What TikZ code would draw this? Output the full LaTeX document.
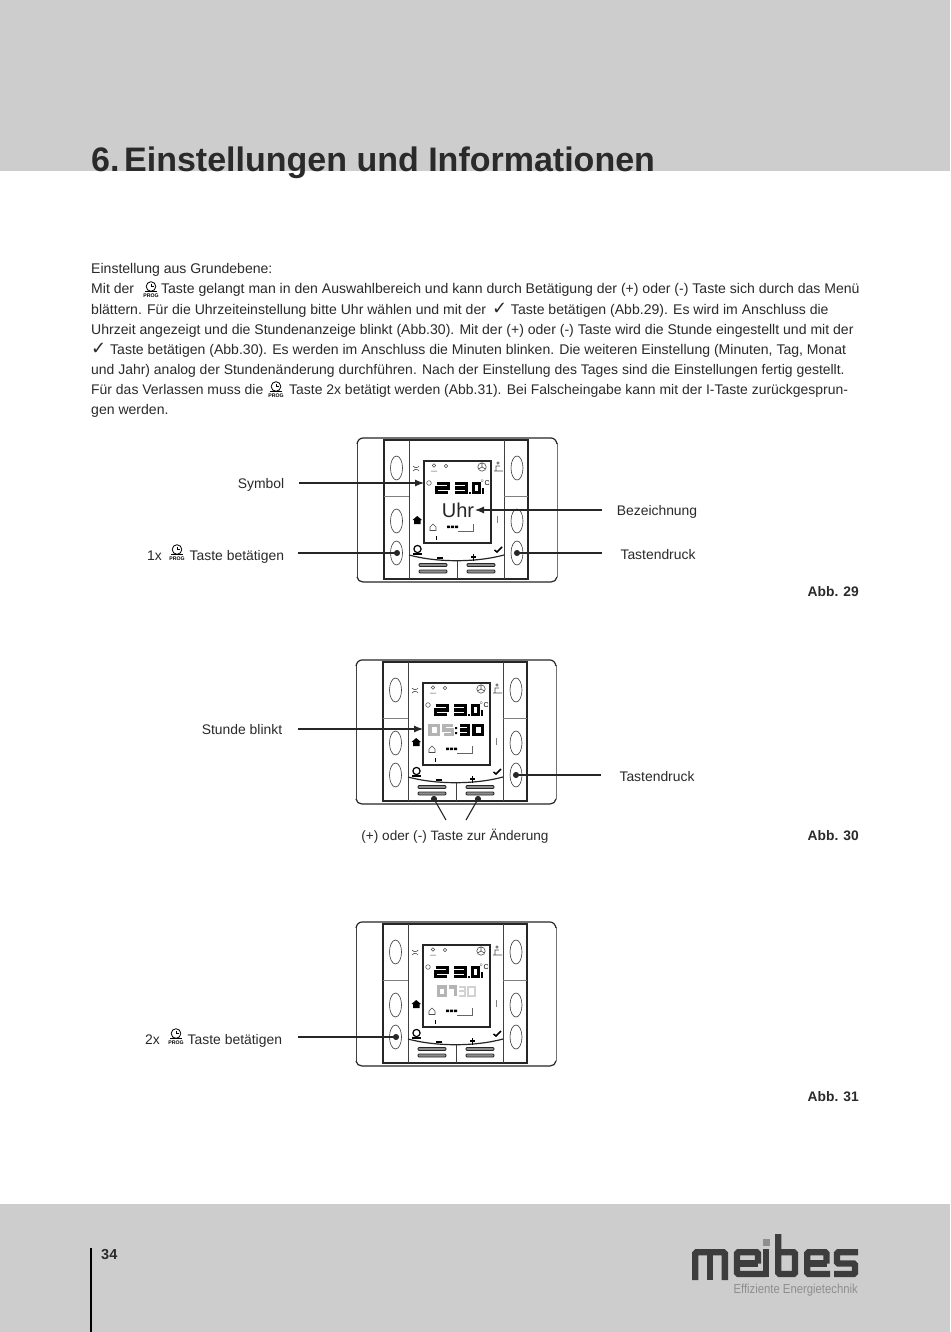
\documentclass[tikz,border=0pt]{standalone}
\usepackage{graphicx}
\usepackage{fontspec}
\setmainfont{Liberation Sans}
\newfontfamily\symfont{DejaVu Sans}
\usetikzlibrary{arrows.meta}
\definecolor{bandgray}{HTML}{CDCDCD}
\definecolor{textblack}{HTML}{2A2A2A}
\definecolor{logogray}{HTML}{3D3D3D}
\definecolor{logolight}{HTML}{8E8E8E}
\definecolor{segdim}{HTML}{B4B4B4}
\definecolor{segpale}{HTML}{D2D2D2}
\tikzset{
  bodyline/.style={anchor=base west,inner sep=0pt,text=textblack,font=\fontsize{14.05}{16}\selectfont},
  bodytight/.style={bodyline,font=\fontsize{13.95}{16}\selectfont},
  callout/.style={anchor=base,inner sep=0pt,text=textblack,font=\fontsize{13.9}{16}\selectfont},
  figlabel/.style={anchor=base east,inner sep=0pt,text=textblack,font=\fontsize{13.8}{16}\selectfont\bfseries},
  pointer/.style={draw=black!85,line width=1.1pt,-{Latex[length=9pt,width=7pt]}},
  dotline/.style={draw=black!85,line width=1.1pt,shorten >=-3pt,-{Circle[length=6pt,width=6pt]}},
  frameline/.style={draw=black!75,line width=0.8pt},
  heavyline/.style={draw=black!85,line width=1.2pt},
  grillbar/.style={draw=black!85,fill=black!45,line width=0.8pt,rounded corners=1pt},
  seg/.style={draw=black,line width=3.4pt},
  segoff/.style={draw=segdim,line width=3.2pt},
  segthin/.style={draw=segpale,line width=2pt},
  logostroke/.style={draw=logogray,line width=6.4pt,rounded corners=1.5pt},
}
\newcommand{\checkmk}{{\symfont\fontsize{18}{18}\selectfont ✓}}
% clock with PROG underneath
\newcommand{\progicon}[2]{%
  \begin{scope}[shift={(#1,#2)}]
    \draw[black,line width=0.8pt] (0,-1.5) circle (4.8);
    \draw[black,line width=0.8pt] (0,-4.5) -- (0,-1.5) -- (2.8,-1.5);
    \draw[black,line width=0.8pt] (-6,3.6) -- (6,3.6);
    \node[inner sep=0pt,font=\fontsize{5.2}{6}\selectfont\bfseries] at (0,7.5) {PROG};
  \end{scope}}
% seven segment patterns, #1 style, #2 x, #3 y
\def\dw{8.6}
\def\dh{4.3}
\newcommand{\digitTwo}[3]{\draw[#1] (#2,#3) -- ++(\dw,0) -- ++(0,\dh) -- ++(-\dw,0) -- ++(0,\dh) -- ++(\dw,0);}
\newcommand{\digitThree}[3]{\draw[#1] (#2,#3) -- ++(\dw,0) -- ++(0,2*\dh) -- ++(-\dw,0); \draw[#1] (#2,#3+\dh) -- ++(\dw,0);}
\newcommand{\digitZero}[3]{\draw[#1] (#2,#3) rectangle ++(\dw,2*\dh);}
\newcommand{\digitFive}[3]{\draw[#1] (#2+\dw,#3) -- ++(-\dw,0) -- ++(0,\dh) -- ++(\dw,0) -- ++(0,\dh) -- ++(-\dw,0);}
\newcommand{\digitSeven}[3]{\draw[#1] (#2,#3) -- ++(\dw,0) -- ++(0,2*\dh);}
% the device, #1 x of left edge, #2 y of top edge
\newcommand{\device}[2]{%
  \begin{scope}[shift={(#1,#2)}]
    \draw[frameline] (0,5) -- (0,139);
    \draw[frameline,black!55] (200,5) -- (200,139);
    \draw[heavyline] (0,6) to[out=80,in=180] (6,0) -- (194,0) to[out=0,in=100] (200,6);
    \draw[heavyline] (0,139) to[out=-80,in=180] (6,144) -- (194,144) to[out=0,in=-100] (200,139);
    \draw[heavyline] (27,2) rectangle (171,141);
    \draw[frameline] (52,2) -- (52,141);
    \draw[frameline] (147,2) -- (147,141);
    \draw[frameline,black!50] (27,58) -- (52,58);
    \draw[frameline,black!50] (147,58) -- (171,58);
    \foreach \px in {39.5,160} \foreach \py in {30,83,115}
      \draw[black!80,line width=0.6pt] (\px,\py) ellipse (6 and 12);
    \draw[heavyline] (67,23) rectangle (134,105);
    \draw[heavyline] (52,117) .. controls (80,124.6) and (119,124.6) .. (147,117);
    \draw[frameline] (100,122.5) -- (100,141);
    \foreach \gx in {62,110} {
      \draw[grillbar] (\gx,125.5) rectangle ++(28,3);
      \draw[grillbar] (\gx,132) rectangle ++(28,3);
    }
    % keys beside the display
    \draw[black!70,line width=0.6pt] (56,28) arc (150:30:3.5);
    \draw[black!70,line width=0.6pt] (56,33) arc (210:330:3.5);
    \fill[black] (60.2,78) -- (65,82) -- (63.5,82) -- (63.5,86) -- (57,86) -- (57,82) -- (55.5,82) -- cycle;
    \draw[black!70,line width=0.6pt] (137,33) -- (146,33) (139,33) -- (139,28) -- (143,28) (141,25) circle (1.2);
    \draw[black!50,line width=0.9pt] (140,78) -- (140,85);
    % row under the display
    \draw[black,line width=1.2pt] (60.5,111) circle (3.6);
    \fill[black] (56,114.6) rectangle (65,116.8);
    \fill[black] (80,119) rectangle (86,120.6);
    \fill[black] (114,118.2) rectangle (119,119.8);
    \fill[black] (115.7,115.5) rectangle (117.3,122.5);
    \draw[black,line width=1.5pt] (137.5,112) -- (140,114) -- (145,109);
    % symbols in the display
    \draw[black!70,line width=0.5pt] (77,27.5) circle (1.8) (74,33) -- (80,33);
    \draw[black!70,line width=0.5pt] (89,28) circle (1.8);
    \draw[black!70,line width=0.6pt] (125,29) circle (4.2) (125,29) -- (125,25) (125,29) -- (121.5,31) (125,29) -- (128.5,31);
    \draw[black!70,line width=0.5pt] (72,45) circle (2.3);
    \fill[black] (78.6,98) rectangle (79.8,102);
    \draw[black!70,line width=0.6pt] (73,89) -- (76,86) -- (79,89) -- (79,92.5) -- (73,92.5) -- cycle;
    \fill[black] (90,87.5) rectangle (93,90) (94,87.5) rectangle (97,90) (98,87.5) rectangle (101,90);
    \draw[black!60,line width=0.4pt] (101,93) -- (116,93) -- (116,86);
    \def\dw{11.5}
    \digitTwo{seg}{79.7}{45.7}
    \digitThree{seg}{98.2}{45.7}
    \def\dw{6.5}
    \digitZero{seg}{116.2}{45.7}
    \def\dw{8.6}
    \fill[black] (111.8,53.5) rectangle (113.8,56);
    \node[inner sep=0pt,font=\fontsize{7}{7}\selectfont] at (128,45) {$^\circ$C};
    \fill[black] (124.5,49.5) rectangle (126.5,56);
  \end{scope}}

\begin{document}
\begin{tikzpicture}[x=1pt,y=-1pt]
\useasboundingbox (0,0) rectangle (950,1332);
\fill[white] (0,0) rectangle (950,1332);
\fill[bandgray] (0,0) rectangle (950,171);
\fill[bandgray] (0,1204) rectangle (950,1332);
\node[anchor=base west,inner sep=0pt,text=textblack,font=\fontsize{34}{36}\selectfont\bfseries] (title) at (91,172) {6.\hspace{4.6pt}Einstellungen und Informationen};
%
\node[bodyline] (line1) at (91,273) {Einstellung aus Grundebene:};
\node[bodyline] (line2) at (91,293) {Mit der \hspace{23pt}Taste gelangt man in den Auswahlbereich und kann durch Betätigung der (+) oder (-) Taste sich durch das Menü};
\node[bodyline] (line3) at (91,314) {blättern. Für die Uhrzeiteinstellung bitte Uhr wählen und mit der \hspace{2pt}\checkmk{} Taste betätigen (Abb.29). Es wird im Anschluss die};
\node[bodyline] (line4) at (91,334) {Uhrzeit angezeigt und die Stundenanzeige blinkt (Abb.30). Mit der (+) oder (-) Taste wird die Stunde eingestellt und mit der};
\node[bodyline] (line5) at (91,354) {\checkmk{} Taste betätigen (Abb.30). Es werden im Anschluss die Minuten blinken. Die weiteren Einstellung (Minuten, Tag, Monat};
\node[bodytight] (line6) at (91,374) {und Jahr) analog der Stundenänderung durchführen. Nach der Einstellung des Tages sind die Einstellungen fertig gestellt.};
\node[bodytight] (line7) at (91,394) {Für das Verlassen muss die \hspace{22pt}Taste 2x betätigt werden (Abb.31). Bei Falscheingabe kann mit der I-Taste zurückgesprun-};
\node[bodyline] (line8) at (91,414) {gen werden.};
\progicon{151}{288}
\progicon{276}{388}
%
\device{357}{438}
\node[inner sep=0pt,font=\fontsize{20}{20}\selectfont,text=black!85] (uhr) at (458,510) {Uhr};
\node[callout] (symbol) at (261,488) {Symbol};
\node[callout] (bezeichnung) at (657,515) {Bezeichnung};
\node[callout,anchor=base west] (press1) at (147,560) {1x \hspace{24pt}Taste betätigen};
\node[callout] (druck1) at (658,559) {Tastendruck};
\progicon{177}{551}
\coordinate (symbolfrom) at (299,483);
\coordinate (symbolto) at (424,483);
\coordinate (bezfrom) at (602,510);
\coordinate (bezto) at (475,510);
\coordinate (pressfrom) at (298,553);
\coordinate (pressto) at (397,553);
\coordinate (drucka) at (602,553);
\coordinate (druckb) at (517,553);
\draw[pointer] (symbolfrom) -- (symbolto);
\draw[pointer] (bezfrom) -- (bezto);
\draw[dotline] (pressfrom) -- (pressto);
\draw[dotline] (drucka) -- (druckb);
\node[figlabel] (abb29) at (859,596) {Abb. 29};
%
\device{356}{660}
\digitZero{segoff}{430}{725.7}
\digitFive{segoff}{444}{725.7}
\fill[black] (455,727) rectangle (457,729) (455,732) rectangle (457,734);
\digitThree{seg}{460}{725.7}
\digitZero{seg}{474}{725.7}
\node[callout] (blinkt) at (242,734) {Stunde blinkt};
\node[callout] (druck2) at (657,781) {Tastendruck};
\node[callout,font=\fontsize{13.6}{16}\selectfont] (change) at (455,840) {(+) oder (-) Taste zur Änderung};
\coordinate (blinktfrom) at (298,729);
\coordinate (blinktto) at (423,729);
\coordinate (druckc) at (601,775);
\coordinate (druckd) at (516,775);
\coordinate (minusfrom) at (446,820);
\coordinate (minusto) at (434,799);
\coordinate (plusfrom) at (466,820);
\coordinate (plusto) at (478,799);
\draw[pointer] (blinktfrom) -- (blinktto);
\draw[dotline] (druckc) -- (druckd);
\draw[dotline] (minusfrom) -- (minusto);
\draw[dotline] (plusfrom) -- (plusto);
\node[figlabel] (abb30) at (859,840) {Abb. 30};
%
\device{356}{922}
\def\dw{6.6}
\digitZero{segoff}{438.5}{987}
\digitSeven{segoff}{448.5}{987}
\digitThree{segthin}{458.5}{987}
\digitZero{segthin}{468}{987}
\def\dw{8.6}
\node[callout,anchor=base west] (press2) at (145,1044) {2x \hspace{24pt}Taste betätigen};
\progicon{176}{1035}
\coordinate (pressc) at (298,1037);
\coordinate (pressd) at (396,1037);
\draw[dotline] (pressc) -- (pressd);
\node[figlabel] (abb31) at (859,1101) {Abb. 31};
%
\draw[black,line width=1.4pt] (91,1248) -- (91,1332);
\node[anchor=base west,inner sep=0pt,text=textblack,font=\fontsize{14.5}{16}\selectfont\bfseries] (page) at (101,1259) {34};
% logo
\draw[logostroke] (695.2,1280) -- (695.2,1252.2) -- (724.8,1252.2) -- (724.8,1280);
\draw[logostroke] (710,1252.2) -- (710,1280);
\draw[logostroke] (758,1263.5) -- (758,1252.2) -- (737,1252.2) -- (737,1274) -- (766,1274);
\draw[logostroke] (737,1263.5) -- (758,1263.5);
\draw[logostroke] (766,1249) -- (766,1277);
\fill[logolight] (763,1239) rectangle (769.5,1246);
\draw[logostroke] (778.2,1234) -- (778.2,1274) -- (795,1274) -- (795,1252.2) -- (778.2,1252.2);
\draw[logostroke] (826.5,1263.5) -- (826.5,1252.2) -- (807.2,1252.2) -- (807.2,1274) -- (830,1274);
\draw[logostroke] (807.2,1263.5) -- (826.5,1263.5);
\draw[logostroke] (858,1252.2) -- (837,1252.2) -- (837,1263.5) -- (855,1263.5) -- (855,1274) -- (834,1274);
\node[anchor=base east,inner sep=0pt,text=logolight,font=\fontsize{13}{14}\selectfont] (slogan) at (858,1293) {\scalebox{0.87}[1]{Effiziente Energietechnik}};
\end{tikzpicture}
\end{document}
